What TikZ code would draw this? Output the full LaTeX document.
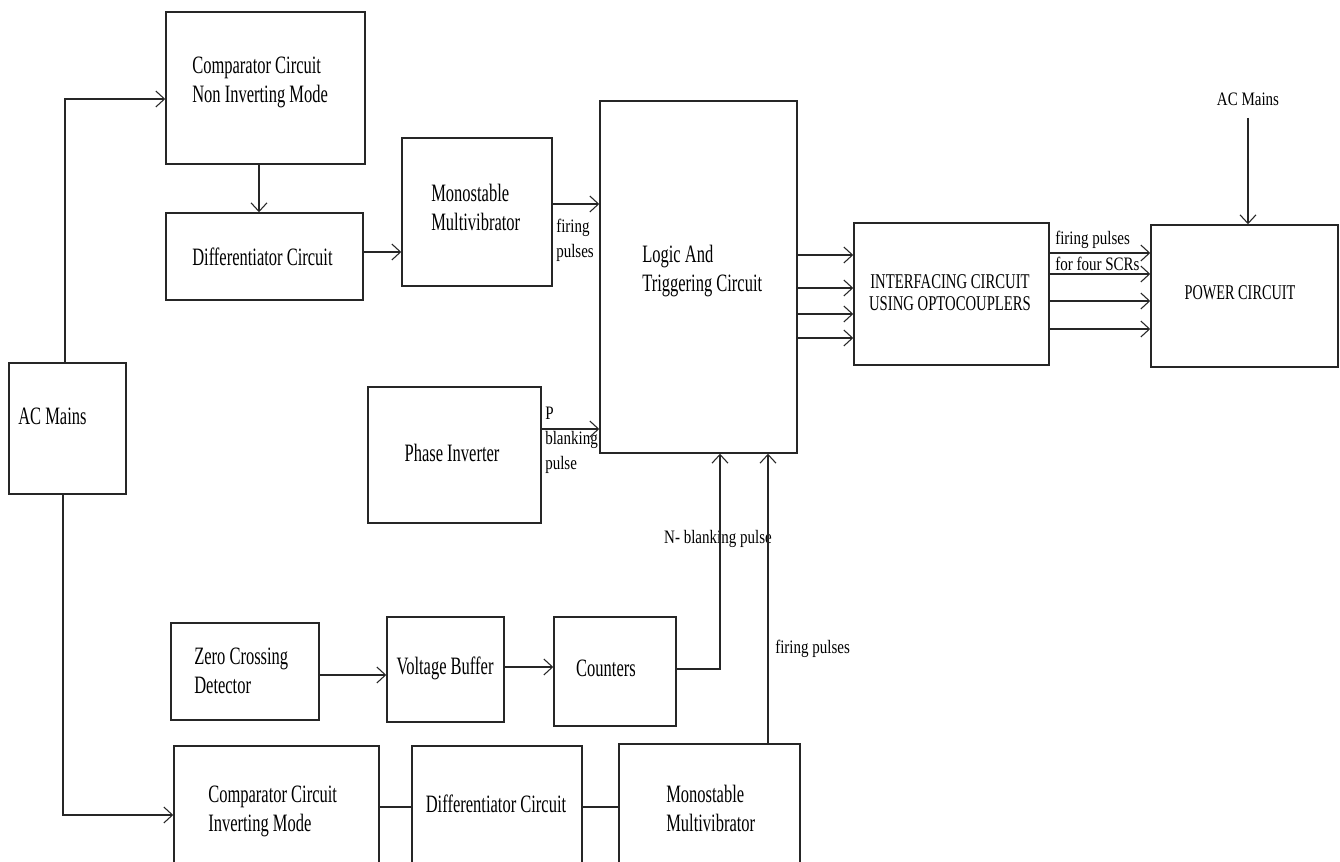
\documentclass[tikz,border=0pt]{standalone}
\usepackage{fontspec}
\setmainfont{Liberation Serif}
\newfontfamily\mainf[FakeStretch=0.66]{Liberation Serif}
\newfontfamily\labf[FakeStretch=0.79]{Liberation Serif}
\newfontfamily\capfa[FakeStretch=0.70]{Liberation Serif}
\newfontfamily\capfb[FakeStretch=0.68]{Liberation Serif}
\usetikzlibrary{arrows.meta,fit}
\tikzset{
  blk/.style={draw=black!85, line width=1.1pt, inner sep=0pt},
  conn/.style={draw=black!85, line width=1.1pt},
  arr/.style={conn, -{Straight Barb[length=6.5pt,width=12pt,line width=0.8pt]}},
  maintxt/.style={inner sep=0pt, align=left, font={\mainf\fontsize{18.75pt}{21.75pt}\selectfont}},
  labtxt/.style={inner sep=0pt, align=left, font={\labf\fontsize{14.25pt}{18.75pt}\selectfont}},
  captxta/.style={inner sep=0pt, align=center, font={\capfa\fontsize{15.75pt}{16.5pt}\selectfont}},
  captxtb/.style={inner sep=0pt, align=center, font={\capfb\fontsize{15.75pt}{16.5pt}\selectfont}},
}
\begin{document}
\begin{tikzpicture}[x=0.75pt,y=-0.75pt]
\useasboundingbox (0,0) rectangle (1340,862);
\clip (0,0) rectangle (1340,862);
\fill[white] (0,0) rectangle (1340,862);

% boxes
\node[blk, fit={(166,12) (365,164)}] (cmpN) {};
\node[blk, fit={(166,213) (363,300)}] (dif1) {};
\node[blk, fit={(402,138) (552,286)}] (mono1) {};
\node[blk, fit={(600,101) (797,453)}] (logic) {};
\node[blk, fit={(368,387) (541,523)}] (phase) {};
\node[blk, fit={(854,223) (1049,365)}] (intf) {};
\node[blk, fit={(1151,225) (1338,367)}] (power) {};
\node[blk, fit={(9,363) (126,494)}] (acL) {};
\node[blk, fit={(171,623) (319,720)}] (zcd) {};
\node[blk, fit={(387,617) (504,722)}] (vbuf) {};
\node[blk, fit={(554,617) (676,726)}] (cnt) {};
\node[blk, fit={(174,746) (379,890)}] (cmpI) {};
\node[blk, fit={(412,746) (582,890)}] (dif2) {};
\node[blk, fit={(619,744) (800,890)}] (mono2) {};

% box texts
\node[maintxt, anchor=west] (tcmpN) at (192,82.5) {Comparator Circuit\\Non Inverting Mode};
\node[maintxt, anchor=west] (tdif1) at (192,257) {Differentiator Circuit};
\node[maintxt, anchor=west] (tmono1) at (431,207.5) {Monostable\\Multivibrator};
\node[maintxt, anchor=west] (tlogic) at (642,271) {Logic And\\Triggering Circuit};
\node[maintxt] (tphase) at (452,453) {Phase Inverter};
\node[captxta] (tintf) at (950,293) {INTERFACING CIRCUIT\\USING OPTOCOUPLERS};
\node[captxtb] (tpower) at (1240,293) {POWER CIRCUIT};
\node[maintxt, anchor=west] (tacL) at (18,416) {AC Mains};
\node[maintxt, anchor=west] (tzcd) at (194,671) {Zero Crossing\\Detector};
\node[maintxt] (tvbuf) at (445,668) {Voltage Buffer};
\node[maintxt] (tcnt) at (606,668) {Counters};
\node[maintxt, anchor=west] (tcmpI) at (208,811.5) {Comparator Circuit\\Inverting Mode};
\node[maintxt] (tdif2) at (496,804) {Differentiator Circuit};
\node[maintxt, anchor=west] (tmono2) at (666,808.5) {Monostable\\Multivibrator};

% labels
\node[labtxt] (acT) at (1248,99) {AC Mains};
\node[labtxt, anchor=west] (lfp1) at (556,240.5) {firing\\pulses};
\node[labtxt, anchor=west] (lpb) at (545,440) {P\\blanking\\pulse};
\node[labtxt, anchor=west] (lfp2) at (1055,240) {firing pulses};
\node[labtxt, anchor=west] (lscr) at (1055,264) {for four SCRs};
\node[labtxt] (lnb) at (718,539) {N- blanking pulse};
\node[labtxt, anchor=west] (lfp3) at (775,649) {firing pulses};

% coordinates
\coordinate (j1) at (65,99);
\coordinate (j2) at (63,815);
\coordinate (c1) at (259,0);
\coordinate (c2) at (0,252);
\coordinate (c3) at (0,204);
\coordinate (c4) at (0,429);
\coordinate (c5) at (0,675);
\coordinate (c6) at (0,667);
\coordinate (c8) at (720,669);
\coordinate (c9) at (768,0);
\coordinate (c10) at (0,807);
\coordinate (acS) at (1248,118);
\coordinate (ia) at (0,255);
\coordinate (ib) at (0,288);
\coordinate (ic) at (0,314);
\coordinate (id) at (0,338);
\coordinate (oa) at (0,253);
\coordinate (ob) at (0,274);
\coordinate (oc) at (0,301);
\coordinate (od) at (0,329);

% connectors
\draw[arr] (acL.north -| j1) -- (j1) -- (cmpN.west |- j1);
\draw[arr] (acL.south -| j2) -- (j2) -- (cmpI.west |- j2);
\draw[arr] (cmpN.south -| c1) -- (dif1.north -| c1);
\draw[arr] (dif1.east |- c2) -- (mono1.west |- c2);
\draw[arr] (mono1.east |- c3) -- (logic.west |- c3);
\draw[arr] (phase.east |- c4) -- (logic.west |- c4);
\draw[arr] (logic.east |- ia) -- (intf.west |- ia);
\draw[arr] (logic.east |- ib) -- (intf.west |- ib);
\draw[arr] (logic.east |- ic) -- (intf.west |- ic);
\draw[arr] (logic.east |- id) -- (intf.west |- id);
\draw[arr] (intf.east |- oa) -- (power.west |- oa);
\draw[arr] (intf.east |- ob) -- (power.west |- ob);
\draw[arr] (intf.east |- oc) -- (power.west |- oc);
\draw[arr] (intf.east |- od) -- (power.west |- od);
\draw[arr] (acS) -- (power.north -| acS);
\draw[arr] (zcd.east |- c5) -- (vbuf.west |- c5);
\draw[arr] (vbuf.east |- c6) -- (cnt.west |- c6);
\draw[arr] (cnt.east |- c8) -- (c8) -- (logic.south -| c8);
\draw[arr] (mono2.north -| c9) -- (logic.south -| c9);
\draw[conn] (cmpI.east |- c10) -- (dif2.west |- c10);
\draw[conn] (dif2.east |- c10) -- (mono2.west |- c10);
\end{tikzpicture}
\end{document}
